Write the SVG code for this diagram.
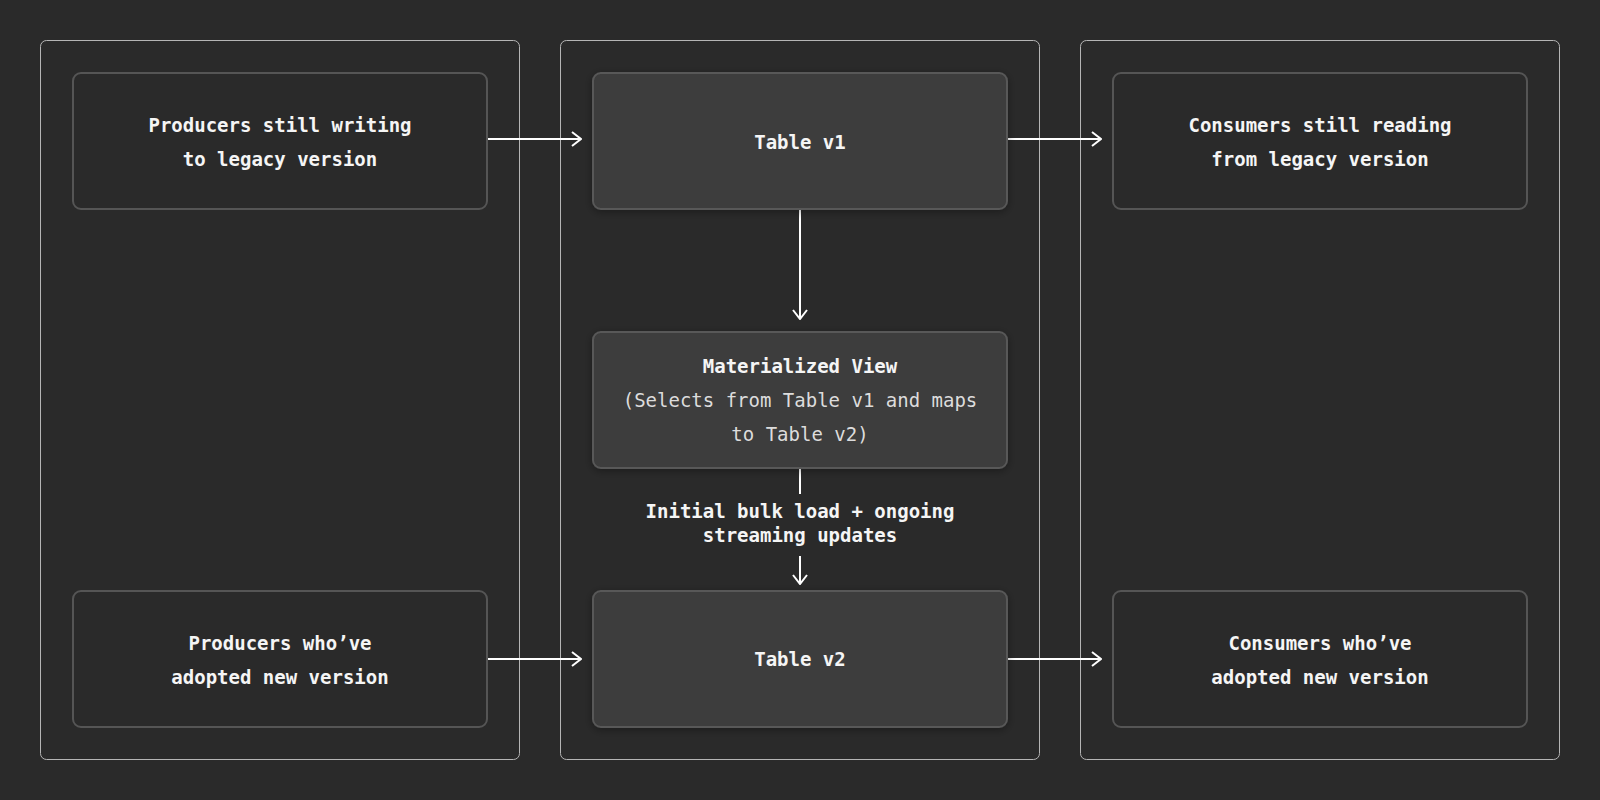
<svg xmlns="http://www.w3.org/2000/svg" width="1600" height="800" viewBox="0 0 1600 800">
<style>
.col{fill:#2a2a2a;stroke:#b5b5b5;stroke-width:1}
.box{fill:#2a2a2a;stroke:#555;stroke-width:2}
.tbl{fill:#3c3c3c;stroke:#585858;stroke-width:2;filter:url(#sh)}
.t{font-family:"DejaVu Sans Mono","Liberation Mono",monospace;font-size:19px;fill:#f5f5f5;text-anchor:middle;font-weight:bold}
.s{font-weight:normal;fill:#dcdcdc}
.c{stroke:#fff;stroke-width:2;fill:none}
</style>
<defs>
<marker id="ah" viewBox="0 0 12 16" refX="11" refY="8" markerWidth="12" markerHeight="16" markerUnits="userSpaceOnUse" orient="auto">
<path d="M2,1 L11,8 L2,15" fill="none" stroke="#fff" stroke-width="2"/>
</marker>
<filter id="sh" x="-10%" y="-20%" width="120%" height="140%">
<feDropShadow dx="0" dy="2" stdDeviation="4" flood-color="#000" flood-opacity="0.35"/>
</filter>
</defs>
<rect width="1600" height="800" fill="#2a2a2a"/>
<g id="columns">
<rect class="col" x="40.5" y="40.5" width="479" height="719" rx="6"/>
<rect class="col" x="560.5" y="40.5" width="479" height="719" rx="6"/>
<rect class="col" x="1080.5" y="40.5" width="479" height="719" rx="6"/>
</g>
<g id="connectors">
<line class="c" x1="488" y1="139" x2="581" y2="139" marker-end="url(#ah)"/>
<line class="c" x1="1008" y1="139" x2="1101" y2="139" marker-end="url(#ah)"/>
<line class="c" x1="488" y1="659" x2="581" y2="659" marker-end="url(#ah)"/>
<line class="c" x1="1008" y1="659" x2="1101" y2="659" marker-end="url(#ah)"/>
<line class="c" x1="800" y1="210" x2="800" y2="319" marker-end="url(#ah)"/>
<line class="c" x1="800" y1="469" x2="800" y2="494"/>
<line class="c" x1="800" y1="556" x2="800" y2="584" marker-end="url(#ah)"/>
<text class="t" x="800" y="518">Initial bulk load + ongoing</text>
<text class="t" x="800" y="542">streaming updates</text>
</g>
<g id="prod-legacy">
<rect class="box" x="73" y="73" width="414" height="136" rx="8"/>
<text class="t" x="280" y="132">Producers still writing</text>
<text class="t" x="280" y="166">to legacy version</text>
</g>
<g id="table-v1">
<rect class="tbl" x="593" y="73" width="414" height="136" rx="8"/>
<text class="t" x="800" y="149">Table v1</text>
</g>
<g id="cons-legacy">
<rect class="box" x="1113" y="73" width="414" height="136" rx="8"/>
<text class="t" x="1320" y="132">Consumers still reading</text>
<text class="t" x="1320" y="166">from legacy version</text>
</g>
<g id="mat-view">
<rect class="tbl" x="593" y="332" width="414" height="136" rx="8"/>
<text class="t" x="800" y="373">Materialized View</text>
<text class="t s" x="800" y="407">(Selects from Table v1 and maps</text>
<text class="t s" x="800" y="441">to Table v2)</text>
</g>
<g id="prod-new">
<rect class="box" x="73" y="591" width="414" height="136" rx="8"/>
<text class="t" x="280" y="650">Producers who’ve</text>
<text class="t" x="280" y="684">adopted new version</text>
</g>
<g id="table-v2">
<rect class="tbl" x="593" y="591" width="414" height="136" rx="8"/>
<text class="t" x="800" y="666">Table v2</text>
</g>
<g id="cons-new">
<rect class="box" x="1113" y="591" width="414" height="136" rx="8"/>
<text class="t" x="1320" y="650">Consumers who’ve</text>
<text class="t" x="1320" y="684">adopted new version</text>
</g>
</svg>
